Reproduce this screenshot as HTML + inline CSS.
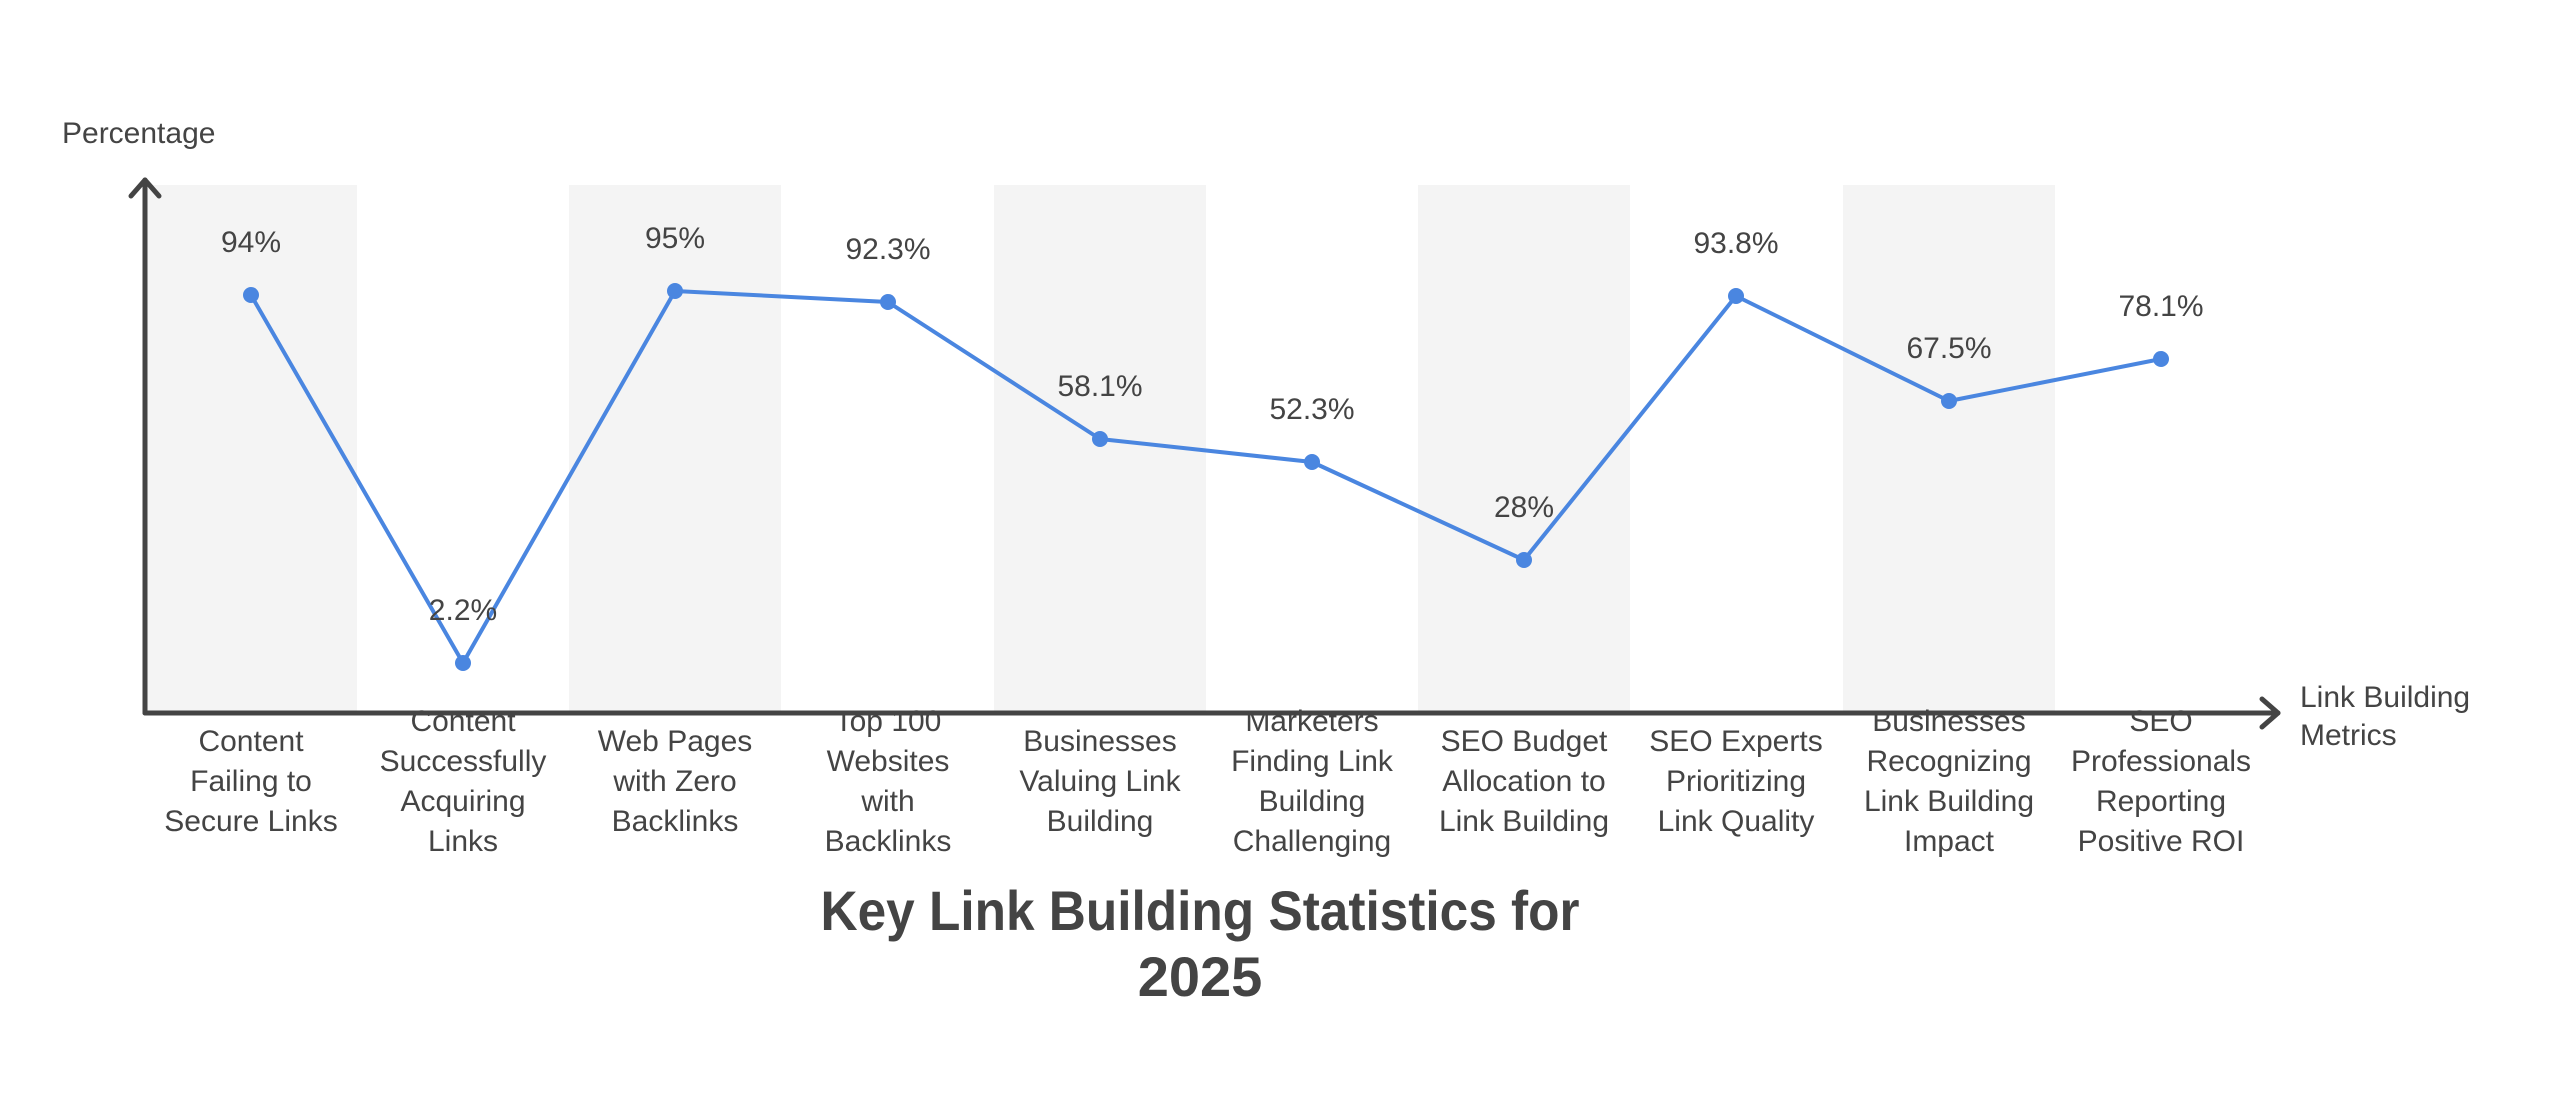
<!DOCTYPE html>
<html><head><meta charset="utf-8"><style>
html,body{margin:0;padding:0;background:#fff;}
svg{display:block;}
text{font-family:"Liberation Sans",sans-serif;fill:#444;}
</style></head><body>
<svg width="2560" height="1114" viewBox="0 0 2560 1114" xmlns="http://www.w3.org/2000/svg">
<g fill="#f4f4f4">
<rect x="145" y="185" width="212" height="528"/>
<rect x="569" y="185" width="212" height="528"/>
<rect x="994" y="185" width="212" height="528"/>
<rect x="1418" y="185" width="212" height="528"/>
<rect x="1843" y="185" width="212" height="528"/>
</g>
<g stroke="#444" stroke-width="5" fill="none" stroke-linecap="round" stroke-linejoin="round">
<line x1="145" y1="180" x2="145" y2="713"/>
<polyline points="131,196 145,180 159,196"/>
<line x1="145" y1="713" x2="2278" y2="713"/>
<polyline points="2262,699 2278,713 2262,727"/>
</g>
<text x="62" y="143" font-size="30">Percentage</text>
<text x="2300" y="707" font-size="30">Link Building</text>
<text x="2300" y="745" font-size="30">Metrics</text>
<polyline fill="none" stroke="#4a86e0" stroke-width="4" stroke-linejoin="round"
points="251,295 463,663 675,291 888,302 1100,439 1312,462 1524,560 1736,296 1949,401 2161,359"/>
<g fill="#4a86e0">
<circle cx="251" cy="295" r="8"/><circle cx="463" cy="663" r="8"/><circle cx="675" cy="291" r="8"/>
<circle cx="888" cy="302" r="8"/><circle cx="1100" cy="439" r="8"/><circle cx="1312" cy="462" r="8"/>
<circle cx="1524" cy="560" r="8"/><circle cx="1736" cy="296" r="8"/><circle cx="1949" cy="401" r="8"/>
<circle cx="2161" cy="359" r="8"/>
</g>
<g font-size="30" text-anchor="middle">
<text x="251" y="252">94%</text>
<text x="463" y="620">2.2%</text>
<text x="675" y="248">95%</text>
<text x="888" y="259">92.3%</text>
<text x="1100" y="396">58.1%</text>
<text x="1312" y="419">52.3%</text>
<text x="1524" y="517">28%</text>
<text x="1736" y="253">93.8%</text>
<text x="1949" y="358">67.5%</text>
<text x="2161" y="316">78.1%</text>
</g>
<g font-size="30" text-anchor="middle">
<text x="251" y="751">Content</text><text x="251" y="791">Failing to</text><text x="251" y="831">Secure Links</text>
<text x="463" y="731">Content</text><text x="463" y="771">Successfully</text><text x="463" y="811">Acquiring</text><text x="463" y="851">Links</text>
<text x="675" y="751">Web Pages</text><text x="675" y="791">with Zero</text><text x="675" y="831">Backlinks</text>
<text x="888" y="731">Top 100</text><text x="888" y="771">Websites</text><text x="888" y="811">with</text><text x="888" y="851">Backlinks</text>
<text x="1100" y="751">Businesses</text><text x="1100" y="791">Valuing Link</text><text x="1100" y="831">Building</text>
<text x="1312" y="731">Marketers</text><text x="1312" y="771">Finding Link</text><text x="1312" y="811">Building</text><text x="1312" y="851">Challenging</text>
<text x="1524" y="751">SEO Budget</text><text x="1524" y="791">Allocation to</text><text x="1524" y="831">Link Building</text>
<text x="1736" y="751">SEO Experts</text><text x="1736" y="791">Prioritizing</text><text x="1736" y="831">Link Quality</text>
<text x="1949" y="731">Businesses</text><text x="1949" y="771">Recognizing</text><text x="1949" y="811">Link Building</text><text x="1949" y="851">Impact</text>
<text x="2161" y="731">SEO</text><text x="2161" y="771">Professionals</text><text x="2161" y="811">Reporting</text><text x="2161" y="851">Positive ROI</text>
</g>
<g font-size="56" font-weight="bold" text-anchor="middle">
<text x="1200" y="930" textLength="759" lengthAdjust="spacingAndGlyphs">Key Link Building Statistics for</text>
<text x="1200" y="996">2025</text>
</g>
</svg>
</body></html>
